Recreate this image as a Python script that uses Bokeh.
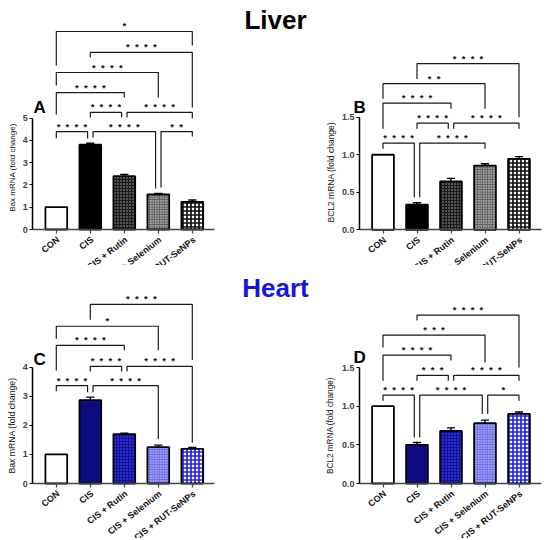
import math
from bokeh.plotting import figure
from bokeh.models import ColumnDataSource, LabelSet, Label, FixedTicker, NumeralTickFormatter, Range1d
from bokeh.layouts import row, column
from bokeh.core.properties import value
from bokeh.embed import file_html
from bokeh.resources import INLINE

FONT = "Liberation Sans"

groups = ["CON", "CIS", "CIS + Rutin", "CIS + Selenium", "CIS + RUT-SeNPs"]

# ---- values (fold change) and SEM ----
liver_bax = [1.00, 3.80, 2.39, 1.57, 1.24]
liver_bax_err = [0.0, 0.07, 0.08, 0.05, 0.08]
liver_bcl2 = [1.00, 0.335, 0.645, 0.855, 0.945]
liver_bcl2_err = [0.0, 0.025, 0.04, 0.025, 0.03]
heart_bax = [1.00, 2.87, 1.70, 1.25, 1.19]
heart_bax_err = [0.0, 0.10, 0.03, 0.07, 0.05]
heart_bcl2 = [1.00, 0.50, 0.68, 0.78, 0.90]
heart_bcl2_err = [0.0, 0.03, 0.04, 0.04, 0.025]

# ---- significance comparisons (group i, group j, label) ----
liver_bax_sig = [(0, 4, "*"), (1, 4, "****"), (0, 3, "****"), (0, 2, "****"), (1, 2, "****"),
                 (2, 4, "****"), (0, 1, "****"), (1, 3, "****"), (3, 4, "**")]
liver_bcl2_sig = [(1, 4, "****"), (0, 3, "**"), (0, 2, "****"), (1, 2, "****"), (2, 4, "****"),
                  (0, 1, "****"), (1, 3, "****")]
heart_bax_sig = [(1, 4, "****"), (0, 3, "*"), (0, 2, "****"), (1, 2, "****"), (2, 4, "****"),
                 (0, 1, "****"), (1, 3, "****")]
heart_bcl2_sig = [(1, 4, "****"), (0, 3, "***"), (0, 2, "****"), (1, 2, "***"), (2, 4, "****"),
                  (0, 1, "****"), (1, 3, "****"), (3, 4, "*")]

# ---- bracket layout: (bar height, left leg end, right leg end) ----
liver_bax_br = [(8.88, 7.35, 8.25), (7.94, 7.71, 5.47), (7.04, 6.46, 5.92), (6.14, 5.16, 5.92),
                (5.25, 5.02, 5.02), (5.25, 5.02, 4.98), (4.39, 4.09, 4.08), (4.39, 4.12, 1.84),
                (4.39, 1.88, 4.17)]
liver_bcl2_br = [(2.213, 2.01, 1.50), (1.947, 1.747, 1.613), (1.688, 1.347, 1.613),
                 (1.421, 1.347, 1.347), (1.421, 1.347, 1.347), (1.155, 1.08, 0.435),
                 (1.155, 0.435, 1.08)]
heart_bax_br = [(6.16, 5.63, 4.25), (5.41, 4.98, 4.58), (4.75, 3.89, 4.58), (4.03, 3.85, 3.85),
                (4.03, 3.85, 1.40), (3.37, 3.17, 3.14), (3.37, 3.14, 1.53)]
heart_bcl2_br = [(2.178, 2.11, 1.50), (1.92, 1.76, 1.565), (1.66, 1.33, 1.59), (1.40, 1.33, 1.33),
                 (1.40, 1.33, 1.33), (1.144, 1.07, 0.595), (1.144, 0.595, 0.90),
                 (1.144, 0.90, 1.07)]

gray_style = dict(
    fill=["#ffffff", "#000000", "#555555", "#a8a8a8", "#ffffff"],
    hatch=[" ", " ", "cross", "cross", "cross"],
    hcolor=["#000000", "#000000", "#1a1a1a", "#5a5a5a", "#111111"],
    hscale=[4, 4, 3, 2.5, 4],
    hweight=[1, 1, 1, 1, 1.7],
)
blue_style = dict(
    fill=["#ffffff", "#0c0c80", "#2b2bd8", "#a4a4f6", "#ffffff"],
    hatch=[" ", " ", "cross", "cross", "cross"],
    hcolor=["#000000", "#000000", "#121290", "#6a6ae4", "#2222e8"],
    hscale=[4, 4, 3, 2.5, 4],
    hweight=[1, 1, 1, 1, 1.7],
)

# layout geometry (pixels)
SPACING = 34.0          # px between bar centres
AX_LEFT = -0.691        # y-axis position (data x)
AX_RIGHT = 4.662        # end of x axis line (data x)
XLAB_ANGLE = math.radians(38)


def panel(vals, errs, sig, br, yticks, fmt, ylabel, ylsize, ylab_px, letter, letter_px,
          style, left, top, width, height, x_con_px, y0_px, px_unit):
    x_start = (left - x_con_px) / SPACING
    x_end = (left + width - x_con_px) / SPACING
    y_end = (y0_px - top) / px_unit
    y_start = (y0_px - (top + height)) / px_unit

    def dx(px):
        return (px - x_con_px) / SPACING

    def dy(py):
        return (y0_px - py) / px_unit

    p = figure(width=width, height=height, x_range=Range1d(x_start, x_end),
               y_range=Range1d(y_start, y_end),
               min_border_left=0, min_border_right=0, min_border_top=0,
               min_border_bottom=0, toolbar_location=None, output_backend="svg")
    p.grid.visible = False
    p.outline_line_color = None
    p.background_fill_color = "white"
    p.border_fill_color = "white"

    xs = list(range(len(vals)))
    src = ColumnDataSource(dict(x=xs, top=vals, fill=style["fill"], hatch=style["hatch"],
                                hcolor=style["hcolor"], hscale=style["hscale"],
                                hweight=style["hweight"]))
    p.vbar(x="x", top="top", bottom=0, width=0.64, source=src, fill_color="fill",
           line_color="black", line_width=1.8, hatch_pattern="hatch", hatch_color="hcolor",
           hatch_scale="hscale", hatch_weight="hweight")

    # error bars (upper only)
    ex = [x for x, e in zip(xs, errs) if e > 0]
    ey0 = [v for v, e in zip(vals, errs) if e > 0]
    ey1 = [v + e for v, e in zip(vals, errs) if e > 0]
    p.segment(x0=ex, y0=ey0, x1=ex, y1=ey1, line_color="black", line_width=1.4)
    p.segment(x0=[x - 0.12 for x in ex], y0=ey1, x1=[x + 0.12 for x in ex], y1=ey1,
              line_color="black", line_width=1.4)

    # significance brackets
    d = 0.08
    bxs, bys, sx, sy, st = [], [], [], [], []
    for k, ((i, j, lab), (t, lb, rb)) in enumerate(zip(sig, br)):
        xl, xr = float(i), float(j)
        for m, ((i2, j2, _), (t2, _, _)) in enumerate(zip(sig, br)):
            if m == k or abs(t2 - t) > 1e-6:
                continue
            if j2 == i:
                xl += d
            if i2 == j:
                xr -= d
        bxs.append([xl, xl, xr, xr])
        bys.append([lb, t, t, rb])
        sx.append((xl + xr) / 2)
        sy.append(t)
        st.append("\u00a0\u00a0".join(list(lab)))
    p.multi_line(xs=bxs, ys=bys, line_color="#1a1a1a", line_width=1.2)
    ssrc = ColumnDataSource(dict(x=sx, y=sy, text=st))
    p.add_layout(LabelSet(x="x", y="y", text="text", source=ssrc, text_align="center",
                          text_baseline="alphabetic", y_offset=2,
                          text_font=value(FONT), text_font_size=value("9.5px"),
                          text_font_style="bold", text_color="#111111"))

    # x axis at y = 0 (its labels drawn rotated, right-aligned at the ticks)
    xa = p.xaxis[0]
    xa.fixed_location = 0
    xa.bounds = (AX_LEFT, AX_RIGHT)
    xa.ticker = FixedTicker(ticks=xs)
    xa.major_label_overrides = {i: "" for i in xs}
    xa.major_label_text_color = None
    xa.major_tick_out = 4
    xa.major_tick_in = 0
    xa.minor_tick_line_color = None
    xa.axis_line_width = 1.5
    xa.axis_line_color = "#444444"
    xa.major_tick_line_color = "#444444"
    xa.major_tick_line_width = 1.2
    lsrc = ColumnDataSource(dict(x=xs, y=[0] * len(xs), text=groups))
    p.add_layout(LabelSet(x="x", y="y", text="text", source=lsrc, angle=XLAB_ANGLE,
                          text_align="right", text_baseline="middle", x_offset=2, y_offset=-9,
                          text_font=value(FONT), text_font_size=value("9px"),
                          text_font_style="bold", text_color="#111111"))

    # y axis at left end of x axis
    ya = p.yaxis[0]
    ya.fixed_location = AX_LEFT
    ya.ticker = FixedTicker(ticks=yticks)
    ya.bounds = (yticks[0], yticks[-1])
    if fmt:
        ya.formatter = NumeralTickFormatter(format=fmt)
    ya.major_label_text_font = FONT
    ya.major_label_text_font_size = "9px"
    ya.major_label_text_font_style = "bold"
    ya.major_label_standoff = 2
    ya.major_tick_out = 3
    ya.major_tick_in = 0
    ya.minor_tick_line_color = None
    ya.axis_line_width = 1.5
    ya.axis_line_color = "black"
    ya.major_tick_line_width = 1.2

    # y axis title (rotated)
    p.add_layout(Label(x=dx(ylab_px[0]), y=dy(ylab_px[1]), text=ylabel, angle=math.pi / 2,
                       text_font=FONT, text_font_size=ylsize, text_align="center",
                       text_baseline="middle", text_color="#111111"))

    p.add_layout(Label(x=dx(letter_px[0]), y=dy(letter_px[1]), text=letter, text_font=FONT,
                       text_font_size="17px", text_font_style="bold", text_align="left",
                       text_baseline="alphabetic", text_color="black"))
    return p, dx, dy


pA, _, _ = panel(liver_bax, liver_bax_err, liver_bax_sig, liver_bax_br, [0, 1, 2, 3, 4, 5], None,
                 "Bax mRNA (fold change)", "8px", (11.7, 167), "A", (33, 107), gray_style,
                 0, 0, 238, 265, 55.8, 229.0, 22.3)
pB, bx, by = panel(liver_bcl2, liver_bcl2_err, liver_bcl2_sig, liver_bcl2_br, [0, 0.5, 1.0, 1.5],
                   "0.0", "BCL2 mRNA (fold change)", "8.5px", (330, 171.7), "B", (353, 107),
                   gray_style, 238, 0, 310, 265, 382.5, 229.3, 75.07)
pC, _, _ = panel(heart_bax, heart_bax_err, heart_bax_sig, heart_bax_br, [0, 1, 2, 3, 4], None,
                 "Bax mRNA (fold change)", "8.7px", (11.7, 425), "C", (33, 359), blue_style,
                 0, 265, 238, 273, 55.8, 483.0, 29.07)
pD, ddx, ddy = panel(heart_bcl2, heart_bcl2_err, heart_bcl2_sig, heart_bcl2_br, [0, 0.5, 1.0, 1.5],
                     "0.0", "BCL2 mRNA (fold change)", "8.2px", (330, 425), "D", (353, 357),
                     blue_style, 238, 265, 310, 273, 382.5, 483.0, 77.3)

pB.add_layout(Label(x=bx(275), y=by(19), text="Liver", text_font=FONT, text_font_size="26px",
                    text_font_style="bold", text_align="center", text_baseline="alphabetic",
                    text_color="black"))
pD.add_layout(Label(x=ddx(275), y=ddy(287), text="Heart", text_font=FONT, text_font_size="26px",
                    text_font_style="bold", text_align="center", text_baseline="alphabetic",
                    text_color="#1414e6"))

layout = column(row(pA, pB), row(pC, pD))
open("out.html", "w").write(file_html(layout, INLINE))
